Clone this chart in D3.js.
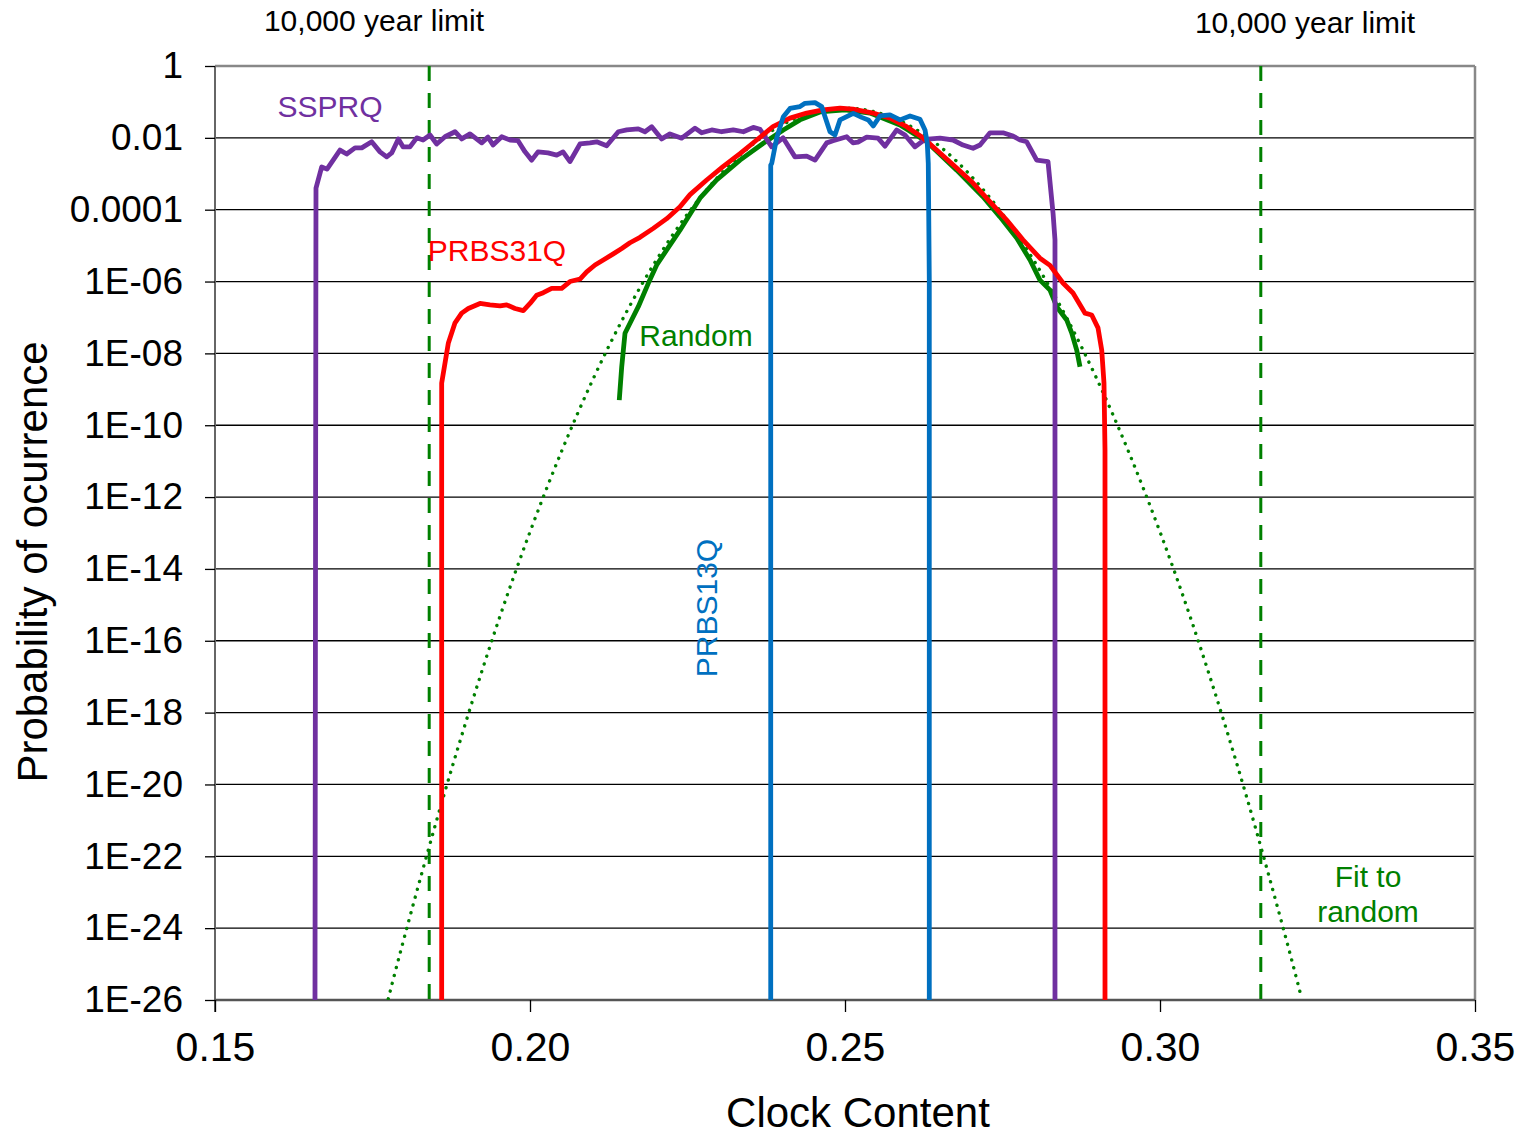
<!DOCTYPE html>
<html>
<head>
<meta charset="utf-8">
<script src="https://cdn.jsdelivr.net/npm/d3@7/dist/d3.min.js"></script>
<style>
  body { margin: 0; background: #fff; }
  text { font-family: "Liberation Sans", Arial, sans-serif; }
</style>
</head>
<body>
<div id="chart-area"></div>
<script>
// Clock content vs log10(probability)
var ssprq = [
  [0.16587, -26], [0.16603, -3.40], [0.16694, -2.81], [0.16778, -2.87], [0.16984, -2.34],
  [0.17090, -2.45], [0.17222, -2.28], [0.17329, -2.28], [0.17487, -2.11], [0.17619, -2.39],
  [0.17725, -2.53], [0.17805, -2.42], [0.17910, -2.03], [0.17984, -2.25], [0.18095, -2.25],
  [0.18202, -2.00], [0.18302, -2.06], [0.18413, -1.92], [0.18519, -2.17], [0.18651, -1.97],
  [0.18810, -1.83], [0.18916, -2.03], [0.19048, -1.89], [0.19233, -2.14], [0.19333, -1.98],
  [0.19413, -2.20], [0.19551, -1.97], [0.19683, -2.06], [0.19810, -2.08], [0.19921, -2.39],
  [0.20027, -2.62], [0.20127, -2.39], [0.20286, -2.42], [0.20424, -2.48], [0.20524, -2.39],
  [0.20635, -2.66], [0.20794, -2.17], [0.20952, -2.14], [0.21059, -2.11], [0.21217, -2.22],
  [0.21402, -1.83], [0.21535, -1.78], [0.21719, -1.75], [0.21825, -1.83], [0.21932, -1.69],
  [0.22090, -2.03], [0.22222, -1.89], [0.22408, -2.01], [0.22619, -1.73], [0.22725, -1.86],
  [0.22884, -1.78], [0.23043, -1.83], [0.23227, -1.78], [0.23386, -1.83], [0.23544, -1.71],
  [0.23651, -1.76], [0.23837, -2.25], [0.24016, -2.00], [0.24206, -2.53], [0.24392, -2.51],
  [0.24524, -2.62], [0.24710, -2.14], [0.24810, -2.08], [0.25027, -1.97], [0.25127, -2.14],
  [0.25206, -2.12], [0.25344, -1.98], [0.25524, -2.01], [0.25635, -2.23], [0.25821, -1.78],
  [0.25952, -1.92], [0.26111, -2.25], [0.26270, -2.04], [0.26508, -2.01], [0.26714, -2.06],
  [0.26873, -2.20], [0.27032, -2.29], [0.27143, -2.20], [0.27302, -1.86], [0.27508, -1.86],
  [0.27667, -1.95], [0.27778, -2.06], [0.27884, -2.11], [0.28043, -2.62], [0.28222, -2.66],
  [0.28302, -4.09], [0.28333, -4.84], [0.28333, -26]
];

var prbs31q = [
  [0.18598, -26], [0.18598, -8.83], [0.18703, -7.72], [0.18810, -7.15], [0.18916, -6.88],
  [0.19021, -6.75], [0.19206, -6.61], [0.19365, -6.65], [0.19524, -6.68], [0.19630, -6.65],
  [0.19762, -6.75], [0.19894, -6.81], [0.20000, -6.61], [0.20106, -6.38], [0.20211, -6.31],
  [0.20344, -6.19], [0.20503, -6.19], [0.20635, -6.00], [0.20794, -5.93], [0.20900, -5.73],
  [0.21032, -5.54], [0.21163, -5.40], [0.21322, -5.23], [0.21456, -5.08], [0.21587, -4.92],
  [0.21746, -4.77], [0.21957, -4.52], [0.22170, -4.25], [0.22381, -3.92], [0.22540, -3.58],
  [0.22800, -3.18], [0.23063, -2.80], [0.23333, -2.44], [0.23598, -2.06], [0.23857, -1.69],
  [0.24127, -1.45], [0.24392, -1.31], [0.24651, -1.22], [0.24921, -1.17], [0.25127, -1.20],
  [0.25444, -1.31], [0.25714, -1.45], [0.25979, -1.69], [0.26238, -2.00], [0.26508, -2.42],
  [0.26773, -2.84], [0.27032, -3.26], [0.27302, -3.78], [0.27567, -4.29], [0.27825, -4.84],
  [0.28095, -5.35], [0.28254, -5.55], [0.28460, -6.04], [0.28619, -6.32], [0.28810, -6.88],
  [0.28916, -6.93], [0.29016, -7.29], [0.29075, -7.91], [0.29111, -8.83], [0.29127, -10.69],
  [0.29127, -26]
];

var prbs13q = [
  [0.23821, -26], [0.23821, -2.76], [0.23837, -2.71], [0.23916, -2.00], [0.24021, -1.41],
  [0.24127, -1.18], [0.24286, -1.13], [0.24365, -1.04], [0.24524, -1.02], [0.24630, -1.13],
  [0.24683, -1.41], [0.24762, -1.83], [0.24841, -1.92], [0.24921, -1.50], [0.25027, -1.41],
  [0.25132, -1.32], [0.25265, -1.43], [0.25370, -1.50], [0.25449, -1.67], [0.25556, -1.39],
  [0.25714, -1.36], [0.25873, -1.50], [0.26032, -1.39], [0.26190, -1.48], [0.26270, -1.78],
  [0.26306, -2.15], [0.26322, -2.71], [0.26338, -5.96], [0.26338, -26]
];

var random = [
  [0.21417, -9.30], [0.21456, -8.37], [0.21508, -7.44], [0.21587, -7.16], [0.21719, -6.70],
  [0.21878, -6.05], [0.22011, -5.54], [0.22170, -5.12], [0.22381, -4.57], [0.22698, -3.68],
  [0.22963, -3.17], [0.23333, -2.62], [0.23703, -2.15], [0.24021, -1.78], [0.24286, -1.50],
  [0.24603, -1.28], [0.25000, -1.22], [0.25397, -1.31], [0.25873, -1.64], [0.26297, -2.11],
  [0.26773, -2.90], [0.27190, -3.64], [0.27460, -4.20], [0.27725, -4.79], [0.27937, -5.40],
  [0.28095, -5.96], [0.28254, -6.24], [0.28360, -6.70], [0.28519, -7.07], [0.28598, -7.43],
  [0.28678, -7.91], [0.28730, -8.37]
];

var fitRandom = [
  [0.1775, -25.97], [0.180, -24.29], [0.185, -21.11], [0.190, -18.16], [0.195, -15.44],
  [0.200, -12.97], [0.205, -10.73], [0.210, -8.72], [0.215, -6.95], [0.220, -5.42],
  [0.225, -4.12], [0.230, -3.06], [0.235, -2.23], [0.240, -1.64], [0.245, -1.29],
  [0.250, -1.17], [0.255, -1.29], [0.260, -1.64], [0.265, -2.23], [0.270, -3.06],
  [0.275, -4.12], [0.280, -5.42], [0.285, -6.95], [0.290, -8.72], [0.295, -10.73],
  [0.300, -12.97], [0.305, -15.44], [0.310, -18.16], [0.315, -21.11], [0.320, -24.29],
  [0.3225, -25.97]
];

var limits = [0.184, 0.316];
var xTicks = [0.15, 0.20, 0.25, 0.30, 0.35];
var yTicks = [1, 1e-2, 1e-4, 1e-6, 1e-8, 1e-10, 1e-12, 1e-14, 1e-16, 1e-18, 1e-20, 1e-22, 1e-24, 1e-26];
var yTickLabels = ["1", "0.01", "0.0001", "1E-06", "1E-08", "1E-10", "1E-12", "1E-14",
                   "1E-16", "1E-18", "1E-20", "1E-22", "1E-24", "1E-26"];

var margin = { top: 66, left: 215, bottom: 135, right: 52 };
var svgWidth = 1527;
var svgHeight = 1135;
var width = svgWidth - margin.left - margin.right;
var height = svgHeight - margin.top - margin.bottom;

var svg = d3.select("#chart-area")
            .append("svg")
            .attr("width", svgWidth)
            .attr("height", svgHeight);

var g = svg.append("g")
           .attr("transform", "translate(" + margin.left + ", " + margin.top + ")");

var x = d3.scaleLinear().domain([0.15, 0.35]).range([0, width]);
var y = d3.scaleLog().domain([1e-26, 1]).range([height, 0]);

g.append("clipPath").attr("id", "clip")
 .append("rect").attr("width", width).attr("height", height);

// gridlines
g.selectAll(".grid")
 .data(yTicks.slice(1, -1))
 .enter().append("line")
 .attr("x1", 0).attr("x2", width)
 .attr("y1", (d) => y(d)).attr("y2", (d) => y(d))
 .attr("stroke", "#000").attr("stroke-width", 1.3);

// frame: top and right
g.append("line").attr("x1", 0).attr("x2", width).attr("y1", 0).attr("y2", 0)
 .attr("stroke", "#888").attr("stroke-width", 2.5);
g.append("line").attr("x1", width).attr("x2", width).attr("y1", 0).attr("y2", height)
 .attr("stroke", "#888").attr("stroke-width", 2.5);

// y axis
var yAxisCall = d3.axisLeft(y)
                  .tickValues(yTicks)
                  .tickSize(10)
                  .tickFormat((d, i) => yTickLabels[i]);
var yAxis = g.append("g").attr("class", "y-axis").call(yAxisCall);
yAxis.select(".domain").attr("stroke", "#666").attr("stroke-width", 2).attr("d", "M0," + (height + 12) + "V0");
yAxis.selectAll(".tick line").attr("stroke", "#000").attr("stroke-width", 1.3);
yAxis.selectAll("text")
     .attr("x", -32)
     .attr("font-size", "37px")
     .attr("font-family", "Liberation Sans, Arial, sans-serif")
     .attr("fill", "#000");

// x axis
var xAxisCall = d3.axisBottom(x)
                  .tickValues(xTicks)
                  .tickSize(12)
                  .tickFormat(d3.format(".2f"));
var xAxis = g.append("g").attr("class", "x-axis")
             .attr("transform", "translate(0," + height + ")")
             .call(xAxisCall);
xAxis.select(".domain").attr("stroke", "#555").attr("stroke-width", 2.5).attr("d", "M0,0H" + width);
xAxis.selectAll(".tick line").attr("stroke", "#000").attr("stroke-width", 1.3);
xAxis.selectAll("text")
     .attr("y", 32)
     .attr("font-size", "41px")
     .attr("font-family", "Liberation Sans, Arial, sans-serif")
     .attr("fill", "#000");

// axis titles
svg.append("text")
   .attr("x", 858).attr("y", 1127)
   .attr("text-anchor", "middle")
   .attr("font-size", "42px")
   .text("Clock Content");

svg.append("g")
   .attr("transform", "translate(47, 562)")
   .append("text")
   .attr("text-anchor", "middle")
   .attr("font-size", "42px")
   .attr("transform", "rotate(-90)")
   .text("Probability of ocurrence");

var plot = g.append("g").attr("clip-path", "url(#clip)");

// 10,000 year limit lines
plot.selectAll(".limit")
    .data(limits)
    .enter().append("line")
    .attr("x1", (d) => x(d)).attr("x2", (d) => x(d))
    .attr("y1", 0).attr("y2", height)
    .attr("stroke", "#008000").attr("stroke-width", 3)
    .attr("stroke-dasharray", "15,12");

var line = d3.line()
             .x((d) => x(d[0]))
             .y((d) => y(Math.pow(10, d[1])));

var smooth = d3.line()
               .curve(d3.curveNatural)
               .x((d) => x(d[0]))
               .y((d) => y(Math.pow(10, d[1])));

plot.append("path").datum(fitRandom)
    .attr("d", smooth)
    .attr("fill", "none").attr("stroke", "#008000").attr("stroke-width", 3.4)
    .attr("stroke-linecap", "round").attr("stroke-dasharray", "0.1,8");

var series = [
  { data: random,  color: "#008000" },
  { data: ssprq,   color: "#7030A0" },
  { data: prbs31q, color: "#FF0000" },
  { data: prbs13q, color: "#0070C0" }
];

plot.selectAll(".series")
    .data(series)
    .enter().append("path")
    .attr("d", (d) => line(d.data))
    .attr("fill", "none")
    .attr("stroke", (d) => d.color)
    .attr("stroke-width", 4.8)
    .attr("stroke-linejoin", "round");

// labels
var labels = [
  { text: "10,000 year limit", x: 374, y: 31, color: "#000" },
  { text: "10,000 year limit", x: 1305, y: 33, color: "#000" },
  { text: "SSPRQ", x: 330, y: 117, color: "#7030A0" },
  { text: "PRBS31Q", x: 497, y: 261, color: "#FF0000" },
  { text: "Random", x: 696, y: 346, color: "#008000" },
  { text: "Fit to", x: 1368, y: 887, color: "#008000" },
  { text: "random", x: 1368, y: 922, color: "#008000" }
];

svg.selectAll(".label")
   .data(labels)
   .enter().append("text")
   .attr("x", (d) => d.x).attr("y", (d) => d.y)
   .attr("text-anchor", "middle")
   .attr("font-size", "30px")
   .attr("fill", (d) => d.color)
   .text((d) => d.text);

svg.append("g")
   .attr("transform", "translate(717, 608)")
   .append("text")
   .attr("text-anchor", "middle")
   .attr("font-size", "30px")
   .attr("fill", "#0070C0")
   .attr("transform", "rotate(-90)")
   .text("PRBS13Q");
</script>
</body>
</html>
